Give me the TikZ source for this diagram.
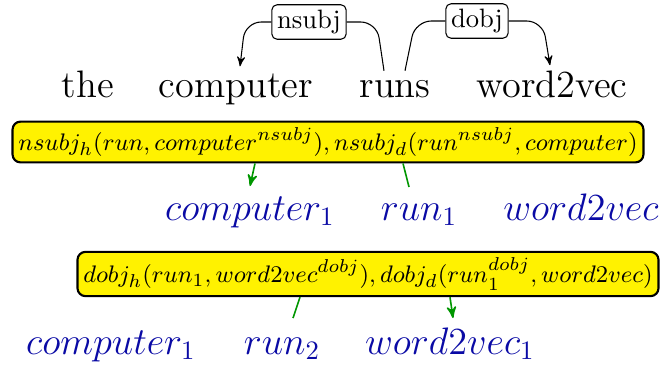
\documentclass[tikz,border=0pt]{standalone}
\usepackage{amsmath}
\usetikzlibrary{arrows, calc, positioning}
\definecolor{vecblue}{RGB}{10,10,165}
\definecolor{linkgreen}{RGB}{0,150,0}
\tikzset{
>=stealth', % arrow heads
word/.style={font=\Large, anchor=base, inner sep=1pt},
rel/.style={draw, rounded corners=2pt, inner sep=2pt, font=\normalsize},
factbox/.style={draw, thick, rounded corners=3pt, fill=yellow, inner sep=2.2pt, font=\fontsize{9.5}{11}\selectfont},
vec/.style={font=\Large, text=vecblue, anchor=base, inner sep=1pt},
arc/.style={rounded corners=6pt},
link/.style={draw=linkgreen, semithick},
}
\begin{document}
\begin{tikzpicture}[x=0.376pt, y=-0.376pt]
  \useasboundingbox (0,0) rectangle (665,367);
  % sentence
  \node[word] (the) at (88,97) {the};
  \node[word] (computer) at (236,97) {computer};
  \node[word] (runs) at (395,97) {runs};
  \node[word] (word2vec) at (552,97) {word2vec};
  % dependency labels
  \node[rel] (nsubj) at (309,22) {nsubj};
  \node[rel] (dobj) at (477,21) {dobj};

  \draw[arc] ($(runs.north)+(-11,-6)$) -- ($(nsubj.east)+(30,0)$) -- (nsubj.east);
  \draw[arc,->] (nsubj.west) -- ($(nsubj.west)+(-26,0)$) -- ($(computer.north)+(4,-4)$);
  \draw[arc] ($(runs.north)+(10,-6)$) -- ($(dobj.west)+(-30,0)$) -- (dobj.west);
  \draw[arc,->] (dobj.east) -- ($(dobj.east)+(34,0)$) -- ($(word2vec.north)+(-2,-2)$);

  % first fact
  \node[factbox] (fact1) at (328,142) {$nsubj_h(run, computer^{nsubj}), nsubj_d(run^{nsubj}, computer)$};
  \node[vec] (cmp1) at (250,220) {$computer_1$};
  \node[vec] (run1) at (419,220) {$run_1$};
  \node[vec] (w2v1) at (581,220) {$word2vec$};
  \coordinate (a1) at (250,186);
  \coordinate (b1) at (409,187);
  \draw[link,->] (fact1.south -| 255,0) -- (a1);
  \draw[link] (fact1.south -| 403,0) -- (b1);

  % second fact
  \node[factbox] (fact2) at (368,274) {$dobj_h(run_1, word2vec^{dobj}), dobj_d(run_1^{dobj}, word2vec)$};
  \node[vec] (cmp2) at (111,354) {$computer_1$};
  \node[vec] (run2) at (282,354) {$run_2$};
  \node[vec] (w2v2) at (450,354) {$word2vec_1$};
  \coordinate (a2) at (293,318);
  \coordinate (b2) at (453,318);
  \draw[link] (fact2.south -| 300,0) -- (a2);
  \draw[link,->] (fact2.south -| 450,0) -- (b2);
\end{tikzpicture}
\end{document}
